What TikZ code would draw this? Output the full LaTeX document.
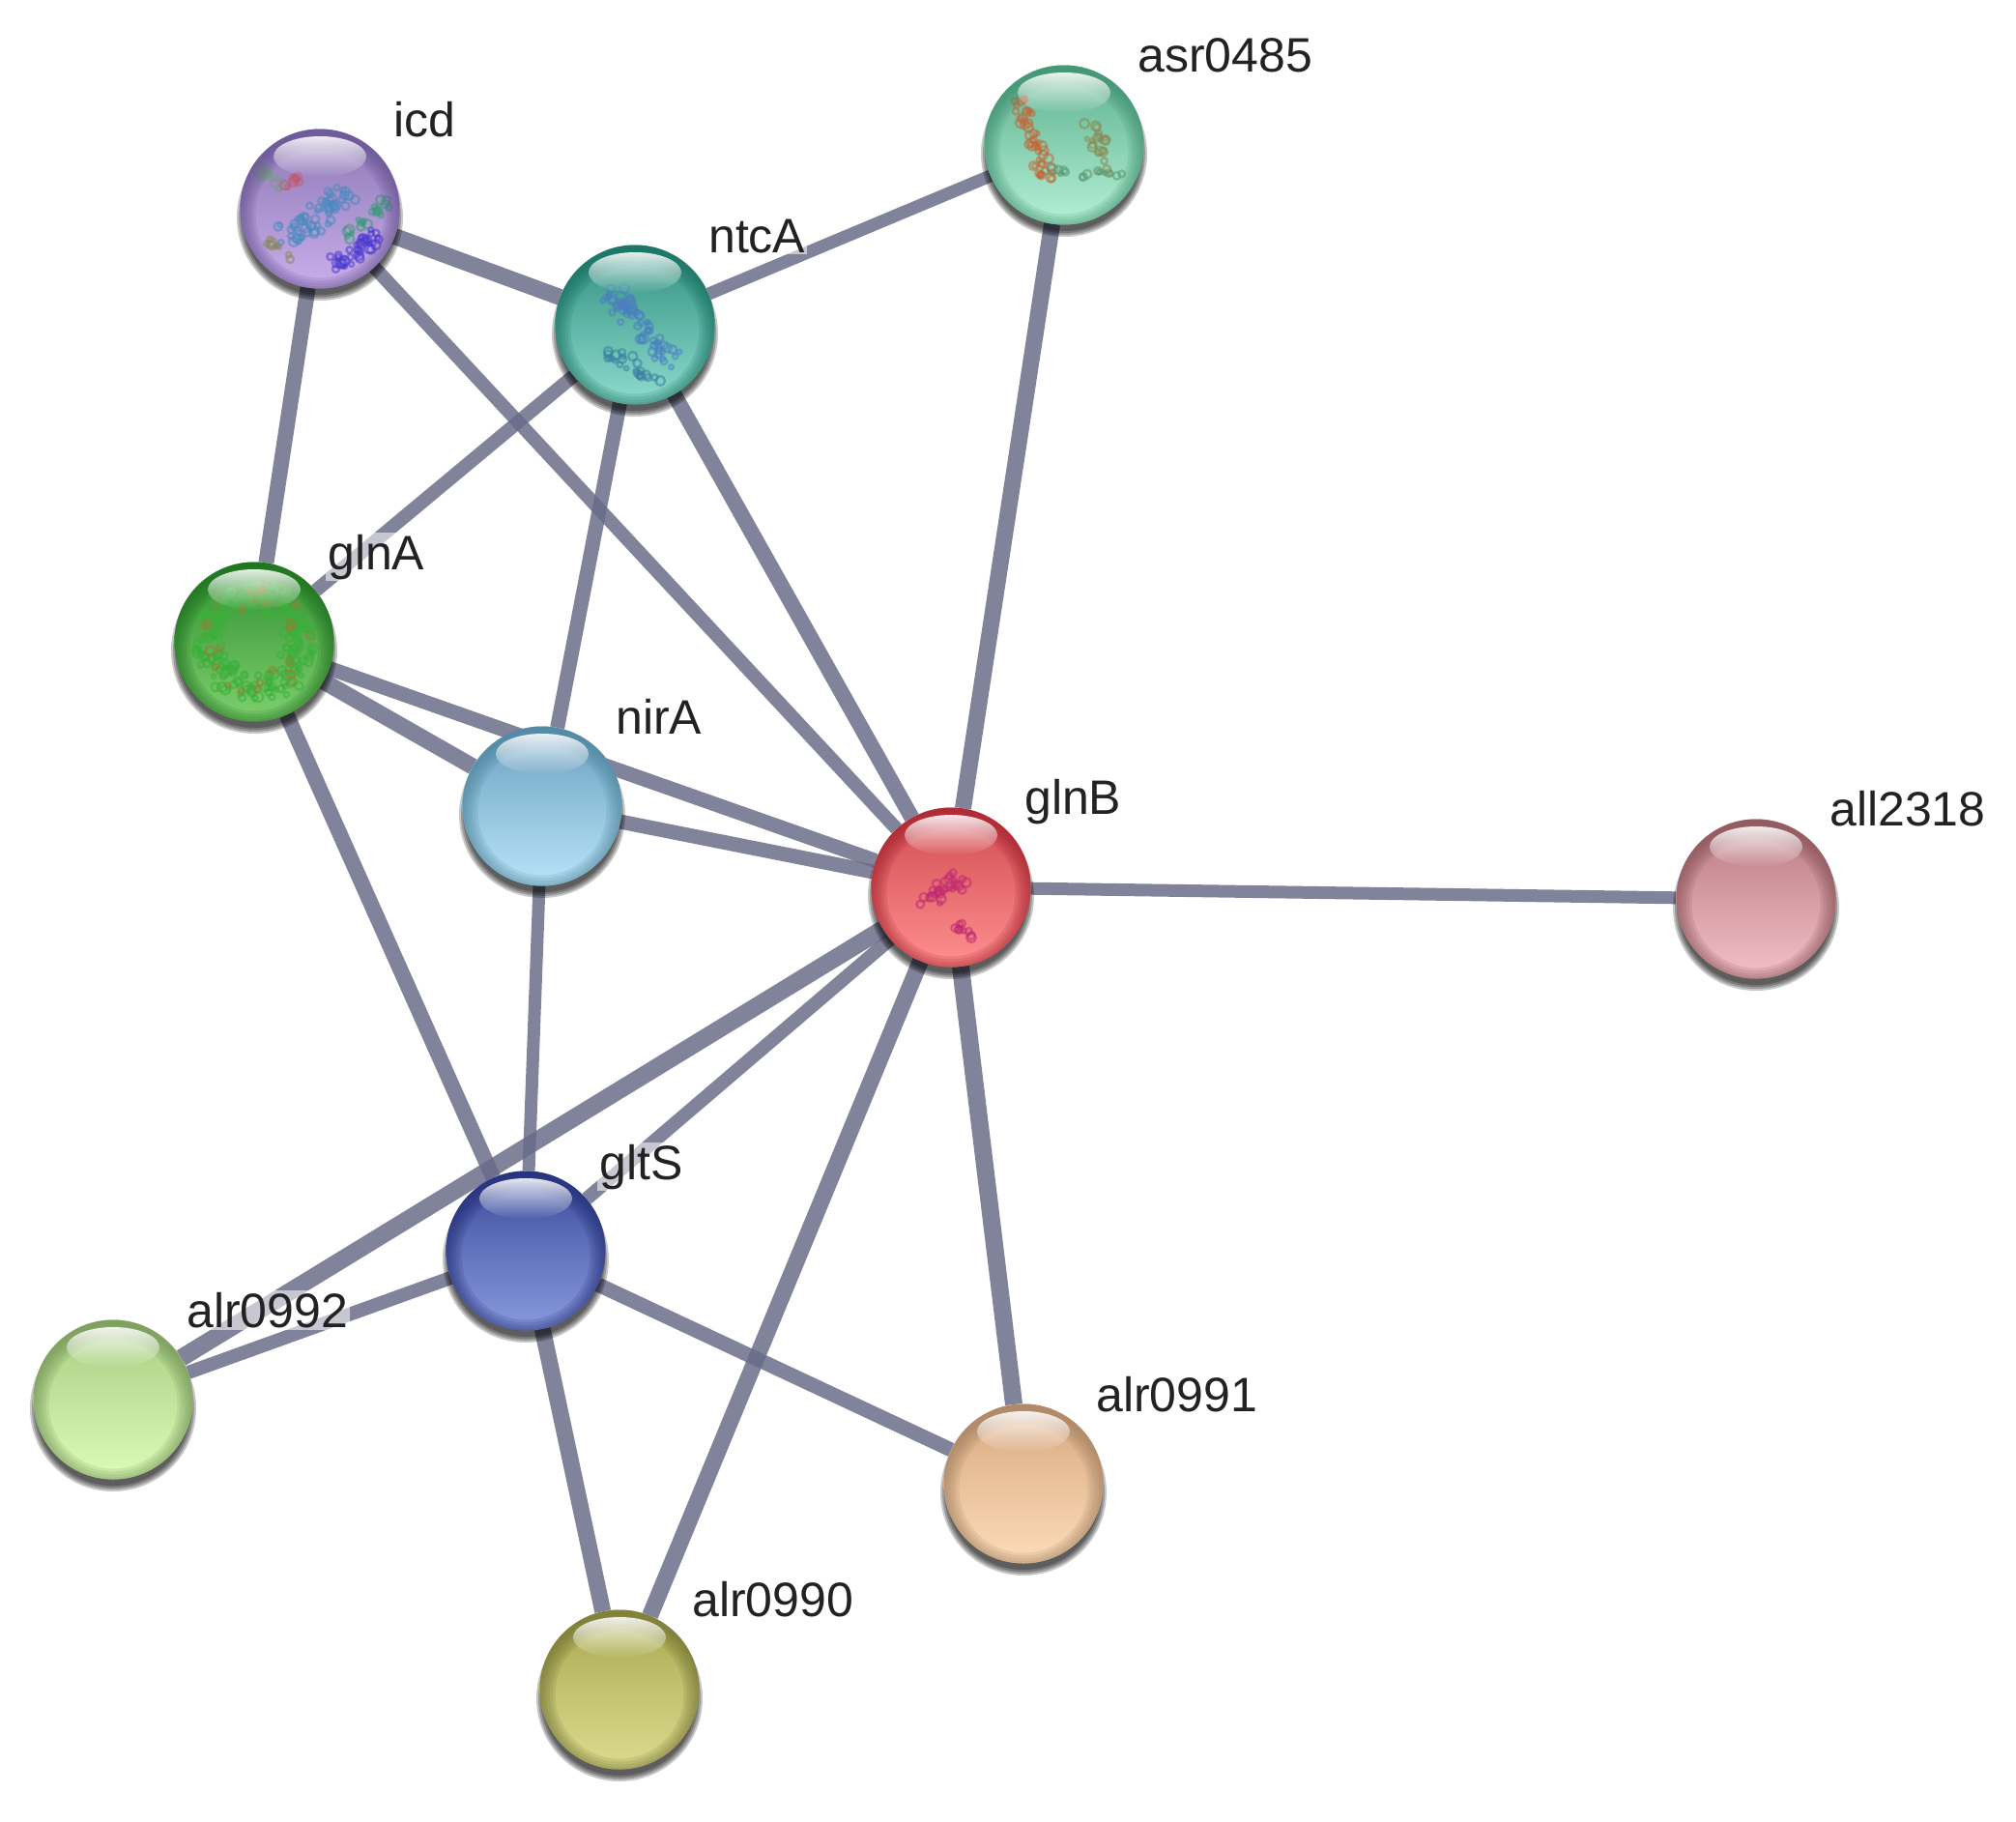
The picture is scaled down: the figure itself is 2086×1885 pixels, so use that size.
\documentclass[tikz,border=0pt]{standalone}
\usepackage{fontspec}
\setmainfont{Liberation Sans}
\usetikzlibrary{fadings,backgrounds,shapes.geometric}
\pgfdeclarelayer{edgelayer}
\pgfdeclarelayer{labellayer}
\pgfsetlayers{edgelayer,labellayer,main}
\tikzfading[name=hlfade, top color=transparent!12, bottom color=transparent!100]
\tikzset{
  sphere/.style={circle,minimum size=165pt,inner sep=0pt,draw=none},
  lnk/.style={line width=#1,draw=edgecol,draw opacity=.84},
  lnk/.default=14pt,
  lab/.style={anchor=base west,xshift=-2pt,inner sep=2pt,fill=white,fill opacity=.55,text opacity=1,text=labcol,font=\fontsize{50}{60}\selectfont}
}
\definecolor{edgecol}{HTML}{696C88}
\definecolor{labcol}{HTML}{222222}
% blob: random small rings scattered along a segment
\newcommand{\blob}[7]{%
  \foreach \i in {1,...,#5}{%
    \pgfmathsetmacro{\tt}{rnd}%
    \pgfmathsetmacro{\px}{#1+\tt*(#3-#1)+#7*(rnd-.5)}%
    \pgfmathsetmacro{\py}{#2+\tt*(#4-#2)+#7*(rnd-.5)}%
    \pgfmathsetmacro{\pr}{2+3*rnd}%
    \draw[#6,line width=2.4pt,opacity=.55] (\px,\py) circle[radius=\pr pt];
  }}
\newcommand{\sph}[7]{%
  \definecolor{sphT}{HTML}{#4}\definecolor{sphB}{HTML}{#5}\definecolor{sphD}{HTML}{#6}%
  \foreach \r in {80,82,84,86}{\fill[black,opacity=.22] (#2,#3+9) circle[radius=\r pt];}
  \node[sphere,top color=sphT,bottom color=sphB] (#1) at (#2,#3) {};
  #7
  \begin{scope}
    \clip (#2,#3) circle[radius=82.5pt];
    \foreach \w in {6,12,18,24,30,36}{\draw[sphD,opacity=.15,line width=\w pt] (#2,#3+5) circle[radius=84.5pt];}
  \end{scope}
  \fill[white,path fading=hlfade] (#2,#3-54) ellipse[x radius=48pt,y radius=21pt];
}
\begin{document}
\begin{tikzpicture}[x=1pt,y=-1pt]
\useasboundingbox (0,0) rectangle (2086,1885);
\pgfmathsetseed{4242}
\definecolor{a1}{HTML}{4A8AC0}\definecolor{a2}{HTML}{4A3AD0}\definecolor{a3}{HTML}{3A9A7A}
\definecolor{a4}{HTML}{7A9A8A}\definecolor{a5}{HTML}{C05A70}\definecolor{a6}{HTML}{8A8A60}
\definecolor{b1}{HTML}{4A80C0}\definecolor{b2}{HTML}{3A80A0}
\definecolor{c1}{HTML}{C06A3A}\definecolor{c2}{HTML}{8A8A50}\definecolor{c3}{HTML}{5A9A70}
\definecolor{d1}{HTML}{3AB03A}\definecolor{d2}{HTML}{A07A30}
\definecolor{e1}{HTML}{C02A70}

\sph{icd}{331}{216}{8D78B5}{C9AEEA}{5E4B8A}{%
  \blob{296}{247}{357}{207}{60}{a1}{26}\blob{345}{273}{391}{243}{40}{a2}{18}
  \blob{361}{243}{399}{210}{22}{a3}{12}\blob{265}{173}{292}{193}{18}{a4}{14}
  \blob{296}{197}{307}{183}{8}{a5}{8}\blob{273}{247}{299}{267}{10}{a6}{8}}
\sph{ntcA}{657}{336}{2F8F80}{8FDCCE}{146A5A}{%
  \blob{632}{303}{697}{373}{70}{b1}{20}\blob{632}{367}{678}{393}{24}{b2}{16}}
\sph{asr}{1101}{150}{5CB090}{B5F0D5}{3A8A6A}{%
  \blob{1057}{106}{1084}{186}{50}{c1}{16}\blob{1130}{133}{1144}{173}{22}{c2}{18}
  \blob{1090}{175}{1165}{185}{14}{c3}{10}}
\sph{glnA}{263}{664}{2F8F2F}{7FD06F}{1C6A1C}{%
  \foreach \ang in {0,45,...,315}{%
    \pgfmathsetmacro{\ax}{263+50*cos(\ang)}\pgfmathsetmacro{\ay}{664+50*sin(\ang)}%
    \pgfmathsetmacro{\bx}{263+50*cos(\ang+45)}\pgfmathsetmacro{\by}{664+50*sin(\ang+45)}%
    \blob{\ax}{\ay}{\bx}{\by}{26}{d1}{28}\blob{\ax}{\ay}{\bx}{\by}{3}{d2}{22}}}
\sph{nirA}{561}{834}{6BA0C0}{B8E4F8}{4A8098}{}
\sph{glnB}{984}{918}{D04A50}{FF9090}{A01C28}{%
  \blob{957}{933}{993}{910}{30}{e1}{18}\blob{983}{950}{1003}{970}{10}{e1}{8}}
\sph{all}{1817}{930}{B87A80}{F4C0C8}{804C50}{}
\sph{gltS}{544}{1294}{3A4A9A}{8A9ADE}{1F2A70}{}
\sph{alrb}{117}{1448}{A6CC80}{DCFCB8}{6C8A50}{}
\sph{alra}{1059}{1535}{D8A880}{FCDCB8}{9A7A5C}{}
\sph{alrz}{641}{1748}{A8A850}{DCDC90}{6C6C30}{}

\begin{pgfonlayer}{edgelayer}
  \fill[white] (0,0) rectangle (2086,1885);
  \draw[lnk=17pt] (icd) -- (ntcA);
  \draw[lnk=16pt] (icd) -- (glnA);
  \draw[lnk=14pt] (icd) -- (glnB);
  \draw[lnk=13pt] (ntcA) -- (asr);
  \draw[lnk=14pt] (ntcA) -- (glnA);
  \draw[lnk=15pt] (ntcA) -- (nirA);
  \draw[lnk=16pt] (ntcA) -- (glnB);
  \draw[lnk=17pt] (asr) -- (glnB);
  \draw[lnk=17pt] (glnA) -- (nirA);
  \draw[lnk=15pt] (glnA) -- (glnB);
  \draw[lnk=15pt] (nirA) -- (glnB);
  \draw[lnk=16pt] (glnA) -- (gltS);
  \draw[lnk=13pt] (nirA) -- (gltS);
  \draw[lnk=13pt] (glnB) -- (all);
  \draw[lnk=14pt] (glnB) -- (gltS);
  \draw[lnk=18pt] (glnB) -- (alrb);
  \draw[lnk=18pt] (glnB) -- (alra);
  \draw[lnk=17pt] (glnB) -- (alrz);
  \draw[lnk=14pt] (gltS) -- (alrb);
  \draw[lnk=15pt] (gltS) -- (alra);
  \draw[lnk=17pt] (gltS) -- (alrz);
\end{pgfonlayer}
\begin{pgfonlayer}{labellayer}
  \node[lab] (ticd) at (407,141) {icd};
  \node[lab] (tasr) at (1177,74) {asr0485};
  \node[lab] (tntc) at (733,261) {ntcA};
  \node[lab] (tgla) at (339,589) {glnA};
  \node[lab] (tnir) at (637,759) {nirA};
  \node[lab] (tglb) at (1060,842) {glnB};
  \node[lab] (tall) at (1893,854) {all2318};
  \node[lab] (tglt) at (620,1220) {gltS};
  \node[lab] (tb) at (193,1373) {alr0992};
  \node[lab] (ta) at (1134,1460) {alr0991};
  \node[lab] (tz) at (716,1672) {alr0990};
\end{pgfonlayer}
\end{tikzpicture}
\end{document}
